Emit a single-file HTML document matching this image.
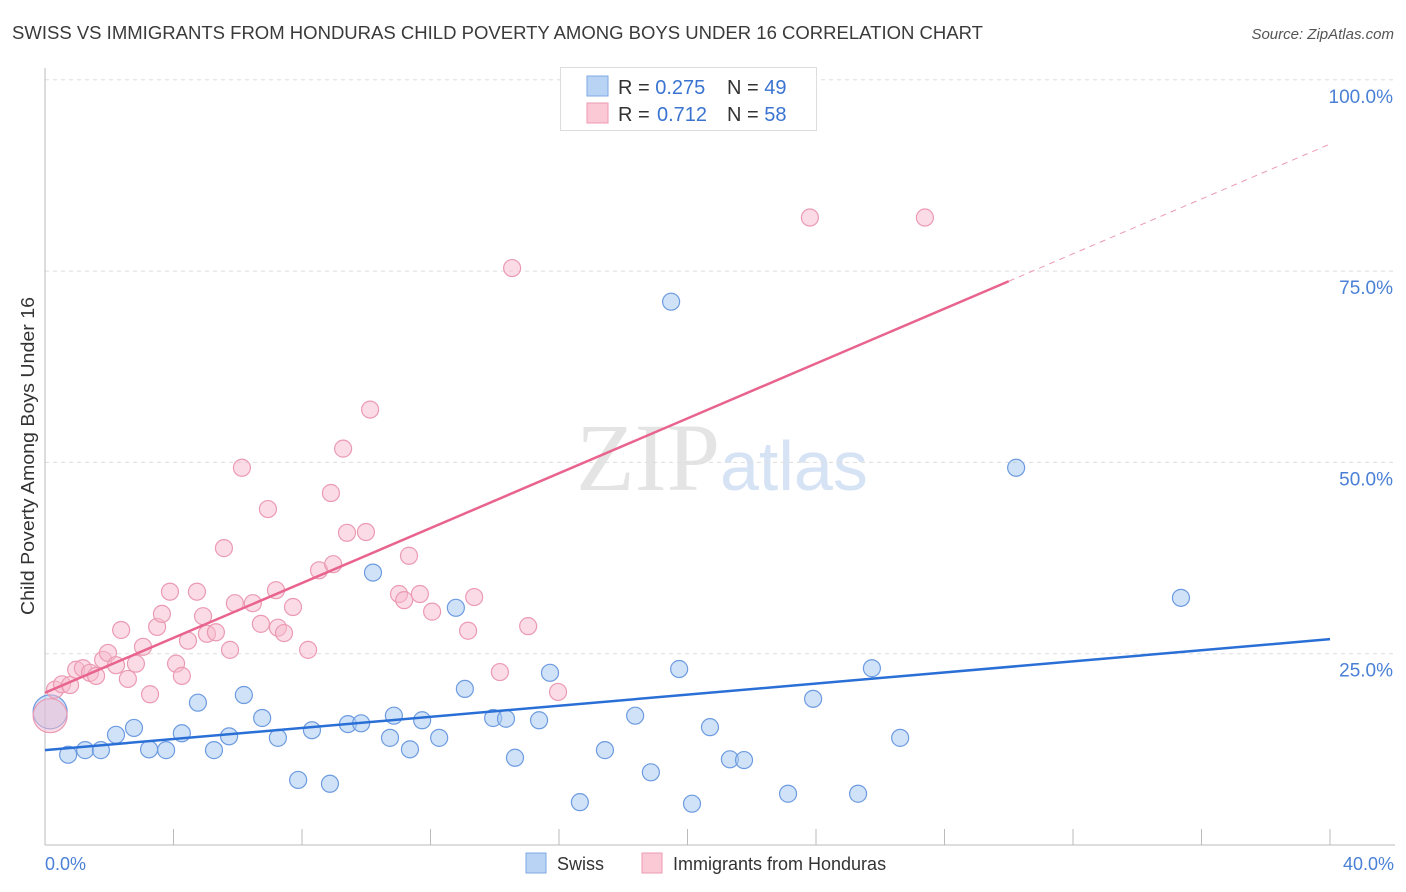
<!DOCTYPE html>
<html><head><meta charset="utf-8"><style>
body{margin:0;background:#fff;font-family:"Liberation Sans",sans-serif;}
#wrap{position:relative;width:1406px;height:892px;overflow:hidden;}
</style></head><body>
<div id="wrap">
<svg id="svg" width="1406" height="892" xmlns="http://www.w3.org/2000/svg">
<text x="12" y="39" font-size="18" fill="#3a3a3a" textLength="971" lengthAdjust="spacingAndGlyphs">SWISS VS IMMIGRANTS FROM HONDURAS CHILD POVERTY AMONG BOYS UNDER 16 CORRELATION CHART</text>
<text x="1394" y="39" font-size="15" fill="#555" font-style="italic" text-anchor="end">Source: ZipAtlas.com</text>
<text x="720" y="490" font-size="96" fill="#e4e4e4" text-anchor="end" font-family="Liberation Serif, serif">ZIP</text>
<text x="720" y="490" font-size="70" fill="#d6e3f5">atlas</text>
<g id="grid"></g>
<line x1="45" y1="68" x2="45" y2="845" stroke="#bbb"/>
<line x1="45" y1="845" x2="1395" y2="845" stroke="#bbb"/>
<g id="xticks"></g>
<text transform="translate(34,615) rotate(-90)" font-size="18" fill="#333" textLength="318" lengthAdjust="spacingAndGlyphs">Child Poverty Among Boys Under 16</text>
<text x="45" y="870" font-size="18" fill="#4a80d6">0.0%</text>
<text x="1394" y="870" font-size="18" fill="#4a80d6" text-anchor="end">40.0%</text>
<g id="pts"></g>
<g id="lines"></g>
<g>
<rect x="560.5" y="67.5" width="256" height="63" fill="#fff" stroke="#ddd"/>
<rect x="587" y="76" width="21" height="20" fill="#b9d3f5" stroke="#7fa8e3"/>
<rect x="587" y="103" width="21" height="20" fill="#fbc8d6" stroke="#ec9ab2"/>
<text x="618" y="94" font-size="20" fill="#333">R = <tspan fill="#3a74d0">0.275</tspan><tspan x="727">N = </tspan><tspan fill="#3a74d0">49</tspan></text>
<text x="618" y="121" font-size="20" fill="#333">R = <tspan fill="#3a74d0" x="657">0.712</tspan><tspan x="727">N = </tspan><tspan fill="#3a74d0">58</tspan></text>
</g>
<rect x="526" y="853" width="20" height="20" fill="#b9d3f5" stroke="#7fa8e3"/>
<text x="557" y="870" font-size="18" fill="#333">Swiss</text>
<rect x="642" y="853" width="20" height="20" fill="#fbc8d6" stroke="#ec9ab2"/>
<text x="673" y="870" font-size="18" fill="#333">Immigrants from Honduras</text>
</svg>
</div>
<script>
const swissX=[0.16,0.72,1.25,1.74,2.21,2.77,3.24,3.77,4.26,4.76,5.26,5.73,6.19,6.76,7.25,7.88,8.31,8.87,9.43,9.84,10.21,10.74,10.86,11.36,11.74,12.27,12.79,13.07,13.95,14.35,14.63,15.38,15.72,16.65,17.43,18.37,18.86,19.49,19.74,20.14,20.70,21.32,21.76,23.13,23.91,25.31,25.74,26.62,30.23,35.36];
const swissY=[17.4,11.8,12.4,12.4,14.4,15.3,12.5,12.4,14.6,18.6,12.4,14.2,19.6,16.6,14.0,8.5,15.0,8.0,15.8,15.9,35.6,14.0,16.9,12.5,16.3,14.0,31.0,20.4,16.6,16.5,11.4,16.3,22.5,5.6,12.4,16.9,9.5,71.0,23.0,5.4,15.4,11.2,11.1,6.7,19.1,6.7,23.1,14.0,49.3,32.3];
const hondX=[0.16,0.31,0.53,0.78,0.97,1.18,1.40,1.59,1.81,1.96,2.21,2.37,2.58,2.83,3.05,3.27,3.49,3.64,3.89,4.08,4.26,4.45,4.73,4.92,5.04,5.32,5.57,5.76,5.91,6.13,6.47,6.72,6.94,7.19,7.25,7.44,7.72,8.19,8.53,8.97,8.90,9.28,9.40,9.99,10.12,11.02,11.18,11.33,11.67,12.05,13.17,13.36,14.16,14.54,15.04,15.97,23.81,27.39];
const hondY=[16.9,20.3,21.0,20.9,22.9,23.1,22.5,22.1,24.2,25.1,23.5,28.1,21.7,23.7,25.9,19.7,28.5,30.2,33.1,23.7,22.1,26.7,33.1,29.9,27.6,27.8,38.8,25.5,31.6,49.3,31.6,28.9,43.9,33.3,28.4,27.7,31.1,25.5,35.9,36.7,46.0,51.8,40.8,40.9,56.9,32.8,32.0,37.8,32.8,30.5,28.0,32.4,22.6,75.4,28.6,20.0,82.0,82.0];
const swissBig=[0];
const hondBig=[0];
const swissLine=[12.4,26.9];
const hondLine=[19.9,91.6];
const hondSolidEnd=30.0;
const yTicks=[25,50,75,100];
const yTickLabels=["25.0%","50.0%","75.0%","100.0%"];
const xTicks=[0,4,8,12,16,20,24,28,32,36,40];

const NS="http://www.w3.org/2000/svg";
const X=v=>45+v/40*1285;
const Y=v=>845-v/25*191.3;
function mk(tag,attrs,parent){const e=document.createElementNS(NS,tag);for(const k in attrs)e.setAttribute(k,attrs[k]);parent.appendChild(e);return e;}
const grid=document.getElementById('grid');
yTicks.forEach((t,i)=>{
 const l=mk('line',{x1:45,x2:1395,y1:Y(t),y2:Y(t),stroke:'#ddd','stroke-dasharray':'4,4'},grid);
 
 
 const tx=mk('text',{x:1393,y:Y(t)+23,'font-size':19,fill:'#4a80d6','text-anchor':'end'},grid);
 tx.textContent=yTickLabels[i];
 
 
});
const xt=document.getElementById('xticks');
xTicks.forEach(t=>{
 const l=mk('line',{x1:X(t),x2:X(t),y1:829,y2:845,stroke:'#bbb'},xt);
 
 
});
const pts=document.getElementById('pts');
function dots(xs,ys,big,fill,stroke,name){
 xs.forEach((x,i)=>{
  const r=big.includes(i)?17:8.5;
  const c=mk('circle',{cx:X(x),cy:Y(ys[i]),r:r,fill:fill,stroke:stroke,'stroke-width':1.2},pts);
  
  
 });
}
dots(swissX,swissY,swissBig,'rgba(170,202,242,0.55)','#6d9be0','swiss');
dots(hondX,hondY,hondBig,'rgba(248,185,205,0.5)','#eb9ab3','honduras');
const lines=document.getElementById('lines');
const bl=mk('line',{x1:X(0),y1:Y(swissLine[0]),x2:X(40),y2:Y(swissLine[1]),stroke:'#2a6fd6','stroke-width':2.5},lines);


const hs=(hondLine[1]-hondLine[0])/40;
const pl=mk('line',{x1:X(0),y1:Y(hondLine[0]),x2:X(hondSolidEnd),y2:Y(hondLine[0]+hs*hondSolidEnd),stroke:'#e8648e','stroke-width':2.5},lines);


const pd=mk('line',{x1:X(hondSolidEnd),y1:Y(hondLine[0]+hs*hondSolidEnd),x2:X(40),y2:Y(hondLine[1]),stroke:'#eb9ab3','stroke-width':1,'stroke-dasharray':'6,5'},lines);


</script>
</body></html>
